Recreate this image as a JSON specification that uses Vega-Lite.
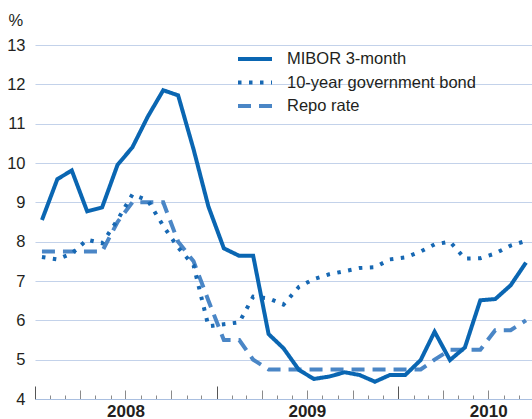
{
  "$schema": "https://vega.github.io/schema/vega-lite/v6.json",
  "width": 497,
  "height": 354,
  "autosize": {"type": "none"},
  "padding": {"left": 35, "top": 45, "right": 0, "bottom": 20},
  "background": "white",
  "config": {"font": "Liberation Sans", "view": {"stroke": null}},
  "datasets": {
    "rates": [
      {"date": "2008-01-15", "series": "Repo rate", "value": 7.75},
      {"date": "2008-02-15", "series": "Repo rate", "value": 7.75},
      {"date": "2008-03-15", "series": "Repo rate", "value": 7.75},
      {"date": "2008-04-15", "series": "Repo rate", "value": 7.75},
      {"date": "2008-05-15", "series": "Repo rate", "value": 7.75},
      {"date": "2008-06-15", "series": "Repo rate", "value": 8.5},
      {"date": "2008-07-15", "series": "Repo rate", "value": 9.0},
      {"date": "2008-08-15", "series": "Repo rate", "value": 9.0},
      {"date": "2008-09-15", "series": "Repo rate", "value": 9.0},
      {"date": "2008-10-15", "series": "Repo rate", "value": 8.0},
      {"date": "2008-11-15", "series": "Repo rate", "value": 7.5},
      {"date": "2008-12-15", "series": "Repo rate", "value": 6.5},
      {"date": "2009-01-15", "series": "Repo rate", "value": 5.5},
      {"date": "2009-02-15", "series": "Repo rate", "value": 5.5},
      {"date": "2009-03-15", "series": "Repo rate", "value": 5.0},
      {"date": "2009-04-15", "series": "Repo rate", "value": 4.75},
      {"date": "2009-05-15", "series": "Repo rate", "value": 4.75},
      {"date": "2009-06-15", "series": "Repo rate", "value": 4.75},
      {"date": "2009-07-15", "series": "Repo rate", "value": 4.75},
      {"date": "2009-08-15", "series": "Repo rate", "value": 4.75},
      {"date": "2009-09-15", "series": "Repo rate", "value": 4.75},
      {"date": "2009-10-15", "series": "Repo rate", "value": 4.75},
      {"date": "2009-11-15", "series": "Repo rate", "value": 4.75},
      {"date": "2009-12-15", "series": "Repo rate", "value": 4.75},
      {"date": "2010-01-15", "series": "Repo rate", "value": 4.75},
      {"date": "2010-02-15", "series": "Repo rate", "value": 4.75},
      {"date": "2010-03-15", "series": "Repo rate", "value": 5.0},
      {"date": "2010-04-15", "series": "Repo rate", "value": 5.25},
      {"date": "2010-05-15", "series": "Repo rate", "value": 5.25},
      {"date": "2010-06-15", "series": "Repo rate", "value": 5.25},
      {"date": "2010-07-15", "series": "Repo rate", "value": 5.75},
      {"date": "2010-08-15", "series": "Repo rate", "value": 5.75},
      {"date": "2010-09-15", "series": "Repo rate", "value": 6.0},
      {"date": "2008-01-15", "series": "10-year government bond", "value": 7.61},
      {"date": "2008-02-15", "series": "10-year government bond", "value": 7.55},
      {"date": "2008-03-15", "series": "10-year government bond", "value": 7.7},
      {"date": "2008-04-15", "series": "10-year government bond", "value": 8.05},
      {"date": "2008-05-15", "series": "10-year government bond", "value": 7.96},
      {"date": "2008-06-15", "series": "10-year government bond", "value": 8.55},
      {"date": "2008-07-15", "series": "10-year government bond", "value": 9.2},
      {"date": "2008-08-15", "series": "10-year government bond", "value": 9.05},
      {"date": "2008-09-15", "series": "10-year government bond", "value": 8.4},
      {"date": "2008-10-15", "series": "10-year government bond", "value": 7.85},
      {"date": "2008-11-15", "series": "10-year government bond", "value": 7.4},
      {"date": "2008-12-15", "series": "10-year government bond", "value": 5.85},
      {"date": "2009-01-15", "series": "10-year government bond", "value": 5.9},
      {"date": "2009-02-15", "series": "10-year government bond", "value": 5.95},
      {"date": "2009-03-15", "series": "10-year government bond", "value": 6.6},
      {"date": "2009-04-15", "series": "10-year government bond", "value": 6.56},
      {"date": "2009-05-15", "series": "10-year government bond", "value": 6.4},
      {"date": "2009-06-15", "series": "10-year government bond", "value": 6.85},
      {"date": "2009-07-15", "series": "10-year government bond", "value": 7.05},
      {"date": "2009-08-15", "series": "10-year government bond", "value": 7.17},
      {"date": "2009-09-15", "series": "10-year government bond", "value": 7.25},
      {"date": "2009-10-15", "series": "10-year government bond", "value": 7.33},
      {"date": "2009-11-15", "series": "10-year government bond", "value": 7.35},
      {"date": "2009-12-15", "series": "10-year government bond", "value": 7.55},
      {"date": "2010-01-15", "series": "10-year government bond", "value": 7.6},
      {"date": "2010-02-15", "series": "10-year government bond", "value": 7.75},
      {"date": "2010-03-15", "series": "10-year government bond", "value": 7.93},
      {"date": "2010-04-15", "series": "10-year government bond", "value": 8.0},
      {"date": "2010-05-15", "series": "10-year government bond", "value": 7.57},
      {"date": "2010-06-15", "series": "10-year government bond", "value": 7.58},
      {"date": "2010-07-15", "series": "10-year government bond", "value": 7.7},
      {"date": "2010-08-15", "series": "10-year government bond", "value": 7.9},
      {"date": "2010-09-15", "series": "10-year government bond", "value": 8.02},
      {"date": "2008-01-15", "series": "MIBOR 3-month", "value": 8.55},
      {"date": "2008-02-15", "series": "MIBOR 3-month", "value": 9.59},
      {"date": "2008-03-15", "series": "MIBOR 3-month", "value": 9.81},
      {"date": "2008-04-15", "series": "MIBOR 3-month", "value": 8.77},
      {"date": "2008-05-15", "series": "MIBOR 3-month", "value": 8.87},
      {"date": "2008-06-15", "series": "MIBOR 3-month", "value": 9.95},
      {"date": "2008-07-15", "series": "MIBOR 3-month", "value": 10.4},
      {"date": "2008-08-15", "series": "MIBOR 3-month", "value": 11.18},
      {"date": "2008-09-15", "series": "MIBOR 3-month", "value": 11.85},
      {"date": "2008-10-15", "series": "MIBOR 3-month", "value": 11.72},
      {"date": "2008-11-15", "series": "MIBOR 3-month", "value": 10.35},
      {"date": "2008-12-15", "series": "MIBOR 3-month", "value": 8.89},
      {"date": "2009-01-15", "series": "MIBOR 3-month", "value": 7.83},
      {"date": "2009-02-15", "series": "MIBOR 3-month", "value": 7.64},
      {"date": "2009-03-15", "series": "MIBOR 3-month", "value": 7.64},
      {"date": "2009-04-15", "series": "MIBOR 3-month", "value": 5.65},
      {"date": "2009-05-15", "series": "MIBOR 3-month", "value": 5.29},
      {"date": "2009-06-15", "series": "MIBOR 3-month", "value": 4.74},
      {"date": "2009-07-15", "series": "MIBOR 3-month", "value": 4.51},
      {"date": "2009-08-15", "series": "MIBOR 3-month", "value": 4.57},
      {"date": "2009-09-15", "series": "MIBOR 3-month", "value": 4.68},
      {"date": "2009-10-15", "series": "MIBOR 3-month", "value": 4.61},
      {"date": "2009-11-15", "series": "MIBOR 3-month", "value": 4.44},
      {"date": "2009-12-15", "series": "MIBOR 3-month", "value": 4.61},
      {"date": "2010-01-15", "series": "MIBOR 3-month", "value": 4.61},
      {"date": "2010-02-15", "series": "MIBOR 3-month", "value": 4.99},
      {"date": "2010-03-15", "series": "MIBOR 3-month", "value": 5.71},
      {"date": "2010-04-15", "series": "MIBOR 3-month", "value": 4.99},
      {"date": "2010-05-15", "series": "MIBOR 3-month", "value": 5.31},
      {"date": "2010-06-15", "series": "MIBOR 3-month", "value": 6.51},
      {"date": "2010-07-15", "series": "MIBOR 3-month", "value": 6.54},
      {"date": "2010-08-15", "series": "MIBOR 3-month", "value": 6.89},
      {"date": "2010-09-15", "series": "MIBOR 3-month", "value": 7.47}
    ]
  },
  "data": {"name": "rates"},
  "mark": {"type": "line", "strokeWidth": 4, "strokeCap": "butt", "strokeJoin": "miter"},
  "encoding": {
    "x": {
      "field": "date",
      "type": "temporal",
      "scale": {"type": "utc", "domain": [{"year": 2008, "month": 1, "date": 1, "utc": true}, {"year": 2010, "month": 9, "date": 27, "utc": true}]},
      "axis": {
        "title": null,
        "grid": false,
        "domainColor": "#a9bfe0",
        "domainWidth": 1.2,
        "tickCount": {"interval": "month", "step": 1},
        "tickSize": {"condition": [{"test": "utcmonth(datum.value) == 0", "value": -13}, {"test": "utcmonth(datum.value) % 3 == 0", "value": -9}], "value": -4},
        "tickColor": {"condition": {"test": "utcmonth(datum.value) == 0", "value": "#555555"}, "value": "#8a8a8a"},
        "tickWidth": 1,
        "labelExpr": "utcmonth(datum.value) == 6 ? utcyear(datum.value) + '' : ''",
        "labelOverlap": false,
        "labelFlush": false,
        "labelBound": false,
        "labelFont": "Liberation Sans",
        "labelFontWeight": "bold",
        "labelFontSize": 17,
        "labelColor": "#231f20",
        "labelPadding": 13,
        "labelBaseline": "top"
      }
    },
    "y": {
      "field": "value",
      "type": "quantitative",
      "scale": {"domain": [4, 13], "nice": false, "zero": false},
      "axis": {
        "title": "%",
        "titleAngle": 0,
        "titleX": -27,
        "titleY": -20,
        "titleAlign": "left",
        "titleBaseline": "alphabetic",
        "titleFont": "Liberation Sans",
        "titleFontSize": 16.5,
        "titleFontWeight": "normal",
        "titleColor": "#231f20",
        "values": [4, 5, 6, 7, 8, 9, 10, 11, 12, 13],
        "domain": false,
        "ticks": false,
        "grid": true,
        "gridColor": "#c3d2ea",
        "gridWidth": 1.2,
        "labelFont": "Liberation Sans",
        "labelFontSize": 16.5,
        "labelColor": "#231f20",
        "labelPadding": 10
      }
    },
    "color": {
      "field": "series",
      "type": "nominal",
      "scale": {"domain": ["MIBOR 3-month", "10-year government bond", "Repo rate"], "range": ["#0a66b2", "#1768b3", "#4a86c6"]},
      "legend": {"title": null, "orient": "none", "legendX": 201, "legendY": 6, "symbolType": "stroke", "symbolSize": 1156, "symbolStrokeWidth": 4, "clipHeight": 16, "labelFont": "Liberation Sans", "labelFontSize": 16.5, "labelColor": "#231f20", "labelOffset": 13, "labelLimit": 400, "rowPadding": 6.5, "padding": 0}
    },
    "strokeDash": {
      "field": "series",
      "type": "nominal",
      "scale": {"domain": ["MIBOR 3-month", "10-year government bond", "Repo rate"], "range": [[1, 0], [3.5, 7.5], [13, 8]]},
      "legend": {"title": null, "orient": "none", "legendX": 201, "legendY": 6, "symbolType": "stroke", "symbolSize": 1156, "symbolStrokeWidth": 4, "clipHeight": 16, "labelFont": "Liberation Sans", "labelFontSize": 16.5, "labelColor": "#231f20", "labelOffset": 13, "labelLimit": 400, "rowPadding": 6.5, "padding": 0}
    }
  }
}
